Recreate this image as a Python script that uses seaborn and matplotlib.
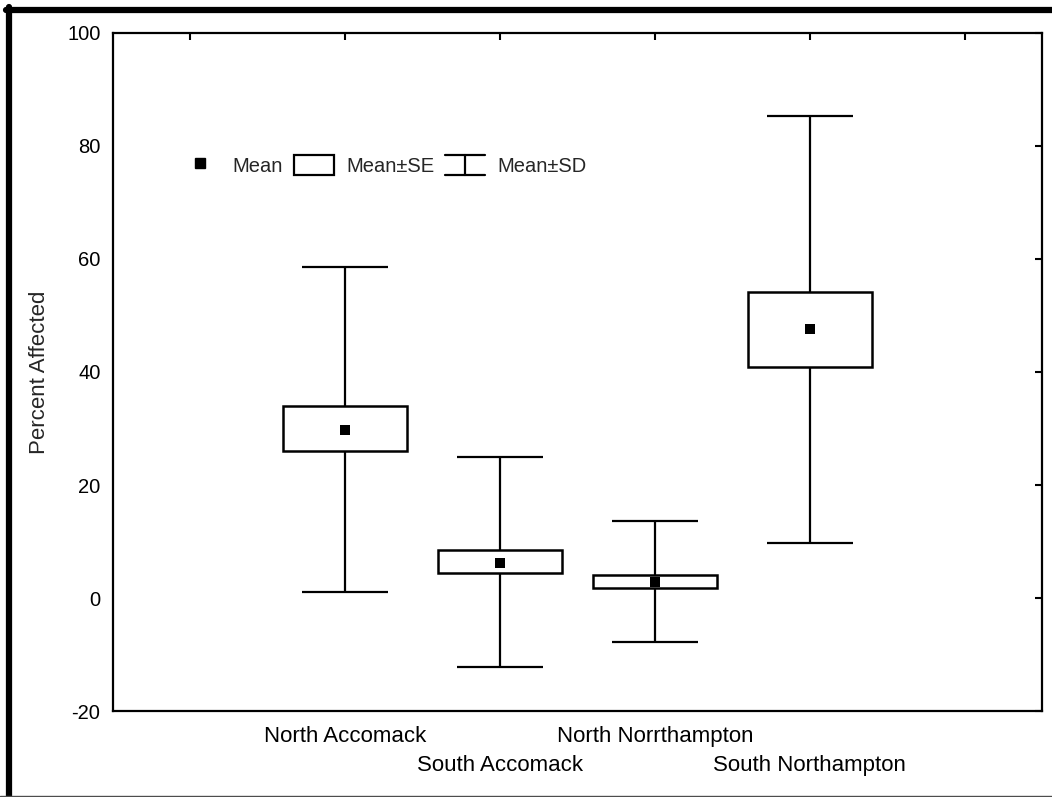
import matplotlib
matplotlib.use("Agg")
import matplotlib.pyplot as plt
from matplotlib.lines import Line2D
from matplotlib.patches import Patch
from matplotlib.legend_handler import HandlerBase
import seaborn as sns
import pandas as pd

# summary stats
regions = ["North Accomack", "South Accomack", "North Norrthampton", "South Northampton"]
means = [29.7, 6.2, 2.9, 47.6]
se_low = [26.0, 4.4, 1.8, 40.9]
se_high = [33.9, 8.5, 4.1, 54.1]
sd_low = [1.1, -12.3, -7.7, 9.8]
sd_high = [58.6, 25.0, 13.6, 85.3]

df = pd.DataFrame({
    "pos": range(1, len(regions) + 1),
    "region": regions,
    "mean": means,
    "se_low": se_low,
    "se_high": se_high,
    "sd_low": sd_low,
    "sd_high": sd_high,
})


class WhiskerHandler(HandlerBase):
    # draws the "I" shaped symbol used for Mean±SD
    def create_artists(self, legend, orig_handle, xdescent, ydescent,
                       width, height, fontsize, trans):
        x0, x1 = -xdescent, -xdescent + width
        y0, y1 = -ydescent, -ydescent + height
        xm = (x0 + x1) / 2
        kw = dict(color="black", linewidth=1.6, transform=trans)
        return [Line2D([x0, x1], [y0, y0], **kw),
                Line2D([x0, x1], [y1, y1], **kw),
                Line2D([xm, xm], [y0, y1], **kw)]


sns.set_style("white")
plt.rcParams["font.family"] = ["Liberation Sans", "DejaVu Sans"]
plt.rcParams["axes.unicode_minus"] = False

fig = plt.figure(figsize=(10.52, 7.97), dpi=100)
ax = fig.add_axes([0.1074, 0.1079, 0.8831, 0.8507])

# Mean +- SD whiskers
ax.errorbar(df["pos"], df["mean"],
            yerr=[df["mean"] - df["sd_low"], df["sd_high"] - df["mean"]],
            fmt="none", ecolor="black", elinewidth=1.6, capsize=31,
            capthick=1.6, zorder=1)

# Mean +- SE boxes
ax.bar(df["pos"], df["se_high"] - df["se_low"], bottom=df["se_low"], width=0.8,
       facecolor="white", edgecolor="black", linewidth=1.8, zorder=2)

# means
sns.scatterplot(data=df, x="pos", y="mean", marker="s", color="black",
                s=60, edgecolor="black", linewidth=0, zorder=3, ax=ax)

ax.set_xlim(-0.5, 5.5)
ax.set_ylim(-20, 100)
ax.set_yticks(range(-20, 101, 20))
ax.set_xticks(range(0, 6))
ax.set_xticklabels([""] + regions + [""], fontsize=16)
ax.set_xlabel("")
ax.set_ylabel("Percent Affected", fontsize=16, labelpad=12)

ax.tick_params(axis="both", direction="in", length=5, width=1.5,
               top=True, right=True, colors="black")
ax.tick_params(axis="y", pad=9, labelsize=14.5)
ax.tick_params(axis="x", pad=11)
# staggered category labels: every second one sits one line lower
for i, tick in enumerate(ax.xaxis.get_major_ticks()):
    if i in (2, 4):
        tick.set_pad(32)
for s in ax.spines.values():
    s.set_linewidth(1.6)
    s.set_color("black")

handles = [
    Line2D([], [], marker="s", ls="none", color="black", markersize=7.5),
    Patch(facecolor="white", edgecolor="black", linewidth=1.6),
    Line2D([], [], color="black"),
]
ax.legend(handles, ["Mean", "Mean\u00b1SE", "Mean\u00b1SD"], ncol=3,
          handler_map={handles[2]: WhiskerHandler()},
          frameon=False, fontsize=14.5, loc="center left", borderpad=0,
          bbox_to_anchor=(0.061, 0.805), handlelength=2.0, handleheight=1.15,
          handletextpad=0.6, columnspacing=0.55)

# outer frame of the original graphic
fig.add_artist(Line2D([0.0086, 0.0086], [0, 0.991], transform=fig.transFigure,
                      color="black", linewidth=4.5))
fig.add_artist(Line2D([0.006, 1.0], [0.988, 0.988], transform=fig.transFigure,
                      color="black", linewidth=4.5))
fig.add_artist(Line2D([0, 1.0], [0.0015, 0.0015], transform=fig.transFigure,
                      color="0.3", linewidth=1))

fig.savefig("out.png", dpi=100)
